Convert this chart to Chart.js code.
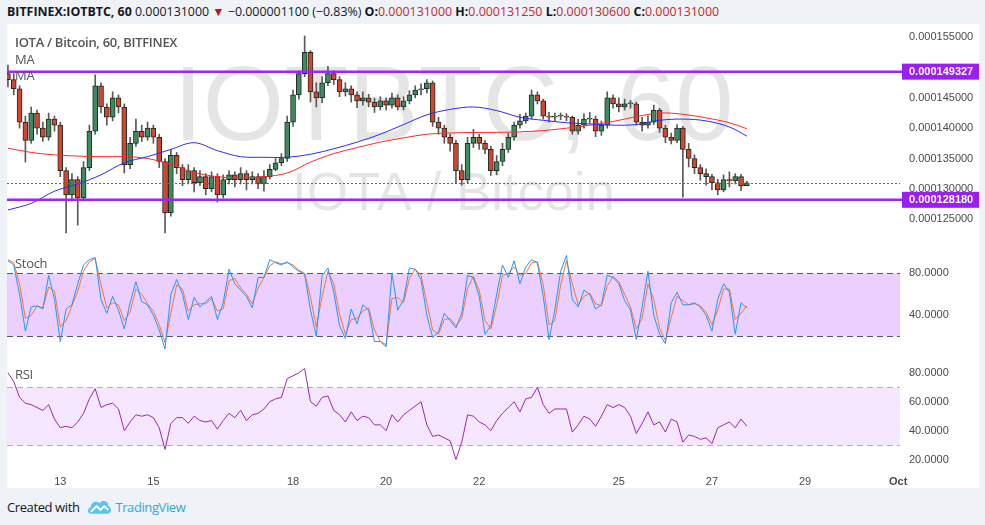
<!DOCTYPE html>
<html lang="en">
<head>
<meta charset="UTF-8">
<title>IOTBTC, 60</title>
<script src="https://cdn.jsdelivr.net/npm/chart.js@4.4.0/dist/chart.umd.min.js"></script>
<style>
  body { margin: 0; width: 985px; height: 525px; overflow: hidden; background: #eff2f6; font-family: 'Open Sans', 'Noto Sans', sans-serif; }
  .hdr { position: absolute; left: 7px; top: 3px; font-size: 12.4px; color: #131722; white-space: nowrap; }
  .hdr b { font-weight: 700; }
  .hdr .r { color: #c62828; }
  .panel { position: absolute; left: 7px; top: 24px; width: 972px; height: 464px; background: #fff; }
  .pane { position: absolute; left: 7px; width: 972px; }
  .lbl { position: absolute; left: 15px; font-size: 13px; letter-spacing: -0.3px; color: #555; line-height: 16px; white-space: nowrap; }
  .foot { position: absolute; left: 7px; top: 498px; font-size: 13px; letter-spacing: -0.4px; color: #131722; white-space: nowrap; }
  .foot .tv { color: #2fa8de; }
</style>
</head>
<body>
  <div class="hdr"><b>BITFINEX:IOTBTC, 60</b> 0.000131000 <span style="color:#b71c1c">&#9660;</span> &minus;0.000001100 (&minus;0.83%) <b>O:</b><span class="r">0.000131000</span> <b>H:</b><span class="r">0.000131250</span> <b>L:</b><span class="r">0.000130600</span> <b>C:</b><span class="r">0.000131000</span></div>
  <div class="panel"></div>

  <div class="pane" style="top:24px;height:226px"><canvas id="mainChart"></canvas></div>
  <div class="pane" style="top:250px;height:105px"><canvas id="stochChart"></canvas></div>
  <div class="pane" style="top:355px;height:133px"><canvas id="rsiChart"></canvas></div>

  <div class="lbl" style="top:34px;font-weight:600">IOTA / Bitcoin, 60, BITFINEX</div>
  <div class="lbl" style="top:51px">MA</div>
  <div class="lbl" style="top:67px">MA</div>
  <div class="lbl" style="top:255px">Stoch</div>
  <div class="lbl" style="top:366px">RSI</div>

  <div class="foot">Created with
    <svg width="25" height="16" viewBox="0 0 26 16" style="vertical-align:-3px;margin-left:5px">
      <path d="M4 15 C0 15 0 9 4 8 C4 3 10 1 13 4 C16 0 23 2 22 7 C26 8 26 15 21 15 Z" fill="#5cc3ec"/>
      <path d="M4 13 L10 7 L14 11 L18 7 L22 11" stroke="#fff" stroke-width="2" fill="none"/>
    </svg>
    <span class="tv">TradingView</span></div>

<script>
// candle times in days of September (3-hour candles)
const candleStart = 11.875;
const candleStep = 0.125;

// prices in units of 1e-6 BTC
const opens = [
  149, 148, 146.5, 141, 138, 142.5, 140, 138.5, 141.5, 140.5,
  133, 129, 131.5, 128.5, 133.5, 139.5, 147, 143.5, 141.8, 145,
  143.5, 134, 137.5, 139.5, 138.5, 140, 138.5, 134.5, 126, 135.5,
  133.5, 131.5, 133, 131, 132, 130, 132, 129, 131.5, 132.3,
  131.5, 132.5, 131.5, 132, 130.8, 132, 133.2, 134.3, 135, 141,
  145.5, 149, 152.5, 146, 145, 147.5, 149, 148, 146, 146.5,
  145.5, 144.5, 145, 144.3, 143.5, 144.5, 143.8, 145, 143.5, 144.5,
  145.5, 146.3, 146.5, 147.5, 141, 140, 138.5, 137.5, 133, 131.5,
  137.5, 138.5, 137.5, 136.5, 133, 134.5, 136.5, 138.5, 140.5, 141.2,
  142, 145.5, 144.5, 142, 141.8, 142, 142, 141.8, 139.5, 140.5,
  141.5, 141.5, 139.5, 140.5, 145, 144, 143.5, 144, 144, 141,
  140.5, 141, 143, 140, 138.5, 138, 140, 136.5, 135, 133.5,
  132.5, 132, 131, 129.8, 131.5, 131.3, 132, 130.5
];
const highs = [
  150.4, 149, 147, 142, 143.5, 143, 141, 142.5, 142, 141,
  133.5, 132.5, 132, 134.5, 140.5, 148.8, 147.5, 144, 146, 145.5,
  144, 138.5, 141.5, 140.5, 141, 140.5, 139, 135, 136.5, 136,
  134, 134, 133.5, 133, 132.5, 132.8, 132.5, 132.3, 133, 132.8,
  133.5, 133, 132.8, 132.5, 133, 134, 135, 135.8, 142, 146.3,
  149.5, 155.2, 152.8, 147.5, 148.5, 150.2, 149.5, 148.5, 147.5, 147,
  146, 146, 145.6, 145, 145.2, 145, 145.8, 145.5, 145.2, 146.2,
  147, 147.3, 148, 147.8, 141.8, 140.5, 139, 138, 134, 138.5,
  139.8, 139, 138, 137, 135.5, 137.5, 139.2, 141, 142.3, 142.5,
  146.3, 146, 144.8, 142.6, 142.5, 142.5, 142.4, 142, 141.5, 142.4,
  142.6, 142, 141.2, 146, 145.5, 145, 144.8, 144.6, 144.3, 141.8,
  142, 143.8, 143.3, 140.5, 139.2, 140.6, 140.3, 137.5, 135.6, 134,
  133.3, 132.4, 131.6, 132.3, 132.8, 132.5, 132.4, 131.25
];
const lows = [
  146.8, 145.5, 140, 134.4, 137.5, 139, 137.8, 138, 139.5, 132,
  122.7, 128, 124, 128, 133, 139, 142.5, 140.5, 141.2, 142.5,
  132.6, 133.3, 137, 137.8, 138, 137.5, 133.5, 122.7, 125.5, 132.5,
  130.5, 130.8, 129.5, 130.5, 129, 129.5, 127.8, 128.5, 130.8, 130.3,
  130.8, 129.8, 130.8, 130, 129.6, 131.6, 133, 133.8, 134.5, 140.3,
  144.8, 148.5, 144.3, 143.5, 144.2, 147, 147.2, 145.2, 145.3, 144.3,
  143.4, 143.8, 143.5, 142.6, 143, 143, 143.3, 143, 143, 144,
  145, 145.5, 145.8, 140.3, 139, 137.5, 136.2, 131, 130.6, 131,
  136.8, 136.5, 135.8, 132.2, 132.3, 133.8, 136, 138, 140, 140.8,
  141.5, 144, 141.5, 141, 141.2, 141.4, 141.2, 139, 139, 140,
  140.8, 138.6, 138.8, 140, 143.3, 142.7, 143, 143.3, 140.5, 139.5,
  140, 140.6, 139.3, 137.6, 137.4, 137.6, 128.6, 133.6, 132.5, 131.4,
  130.6, 129.8, 129, 129.5, 130.3, 130.8, 129.7, 130.6
];
const closes = [
  148, 146.5, 141, 138, 142.5, 140, 138.5, 141.5, 140.5, 133,
  129, 131.5, 128.5, 133.5, 139.5, 147, 143.5, 141.8, 145, 143.5,
  134, 137.5, 139.5, 138.5, 140, 138.5, 134.5, 126, 135.5, 133.5,
  131.5, 133, 131, 132, 130, 132, 129, 131.5, 132.3, 131.5,
  132.5, 131.5, 132, 130.8, 132, 133.2, 134.3, 135, 141, 145.5,
  149, 152.5, 146, 145, 147.5, 149, 148, 146, 146.5, 145.5,
  144.5, 145, 144.3, 143.5, 144.5, 143.8, 145, 143.5, 144.5, 145.5,
  146.3, 146.5, 147.5, 141, 140, 138.5, 137.5, 133, 131.5, 137.5,
  138.5, 137.5, 136.5, 133, 134.5, 136.5, 138.5, 140.5, 141.2, 142,
  145.5, 144.5, 142, 141.8, 142, 142, 141.8, 139.5, 140.5, 141.5,
  141.5, 139.5, 140.5, 145, 144, 143.5, 144, 144, 141, 140.5,
  141, 143, 140, 138.5, 138, 140, 136.5, 135, 133.5, 132.5,
  132, 131, 129.8, 131.5, 131.3, 132, 130.5, 131
];

// moving averages, sampled every half day
const maDays = [
  11.875, 12.375, 12.875, 13.375, 13.875, 14.375, 14.875, 15.375, 15.875, 16.375, 16.875,
  17.375, 17.875, 18.375, 18.875, 19.375, 19.875, 20.375, 20.875, 21.375, 21.875, 22.375,
  22.875, 23.375, 23.875, 24.375, 24.875, 25.375, 25.875, 26.375, 26.875, 27.375, 27.75
];
const maBlue = [
  126.5, 127.6, 129.6, 130.8, 132.3, 134.3, 135.3, 136.5, 137.6, 136.3, 135.3,
  135.2, 135.2, 135.7, 136.6, 137.7, 139.0, 140.6, 142.2, 143.1, 143.5, 142.9,
  141.8, 141.3, 140.9, 140.7, 140.5, 140.6, 141.3, 141.5, 141.2, 140.2, 138.7
];
const maRed = [
  136.7, 136.0, 135.6, 135.4, 135.3, 135.3, 135.0, 134.0, 132.7, 132.0, 131.8,
  132.0, 132.6, 134.4, 135.8, 136.8, 137.7, 138.4, 139.0, 139.2, 139.3, 139.3,
  139.4, 139.6, 140.0, 140.5, 141.1, 141.9, 142.5, 142.3, 141.7, 140.9, 139.9
];

// stochastic %K and %D on the candle grid
const stochK = [
  92, 88, 60, 25, 48, 49, 46, 78, 55, 15, 46, 50, 70, 88, 93, 95, 55, 42, 58, 45,
  27, 52, 72, 53, 50, 40, 26, 8, 60, 74, 60, 36, 57, 48, 53, 58, 36, 52, 84, 70,
  64, 58, 47, 76, 76, 93, 90, 88, 91, 86, 82, 79, 45, 20, 78, 85, 62, 30, 18, 46,
  32, 50, 45, 15, 15, 10, 80, 45, 55, 85, 84, 74, 40, 19, 24, 42, 35, 28, 42, 78,
  76, 58, 22, 30, 60, 88, 76, 92, 70, 86, 93, 90, 58, 17, 45, 82, 97, 55, 48, 64,
  60, 46, 50, 78, 76, 70, 54, 45, 17, 48, 82, 40, 22, 13, 52, 62, 50, 50, 52, 48,
  40, 25, 55, 70, 62, 22, 52, 47
];
const stochD = [
  93, 90, 70, 37, 40, 49, 47, 67, 63, 29, 35, 49, 63, 82, 91, 94, 69, 47, 52, 50,
  35, 43, 65, 60, 51, 44, 31, 14, 42, 69, 65, 44, 50, 51, 51, 56, 44, 46, 73, 75,
  66, 60, 51, 66, 76, 87, 91, 89, 90, 88, 83, 80, 57, 29, 58, 82, 70, 41, 22, 36,
  37, 44, 47, 26, 15, 12, 56, 57, 52, 75, 84, 78, 52, 26, 22, 36, 37, 30, 37, 66,
  77, 64, 35, 27, 50, 78, 80, 86, 78, 80, 90, 91, 69, 31, 35, 69, 92, 70, 50, 58,
  61, 51, 49, 68, 77, 72, 60, 48, 27, 37, 70, 55, 28, 16, 38, 58, 54, 50, 51, 49,
  43, 31, 45, 65, 65, 36, 42, 49
];

// RSI on the candle grid
const rsi = [
  80, 74, 63, 59, 58, 56, 54, 58, 48, 42, 43, 42, 46, 52, 62, 69, 56, 58, 59, 55,
  40, 46, 51, 50, 51, 49, 42, 27, 45, 49, 49, 45, 50, 47, 46, 47, 41, 47, 52, 49,
  54, 47, 51, 52, 55, 60, 62, 63, 76, 78, 80, 83, 60, 57, 63, 64, 54, 51, 46, 53,
  47, 50, 49, 44, 44, 40, 51, 46, 51, 54, 57, 60, 44, 36, 37, 35, 33, 20, 32, 51,
  50, 46, 44, 40, 47, 52, 56, 60, 53, 62, 63, 70, 58, 52, 55, 55, 55, 39, 44, 50,
  48, 43, 50, 58, 56, 58, 56, 50, 38, 45, 53, 44, 46, 39, 48, 46, 32, 37, 36, 34,
  35, 31, 42, 44, 46, 42, 48, 43
];

// axis ticks
const tickDays = [13, 15, 18, 20, 22, 25, 27, 29, 31];
const tickLabels = ['13', '15', '18', '20', '22', '25', '27', '29', 'Oct'];
const priceTicks = [125, 130, 135, 140, 145, 155];
const stochTicks = [40, 80];
const rsiTicks = [20, 40, 60, 80];
const levels = [149.327, 128.18];
const watermark = ['IOTBTC, 60', 'IOTA / Bitcoin'];

const days = closes.map((_, i) => candleStart + i * candleStep);

Chart.defaults.font.family = "'Liberation Sans', Arial, sans-serif";
Chart.defaults.font.size = 11;
Chart.defaults.color = '#4a4a4a';
Chart.defaults.animation = false;
Chart.defaults.plugins.legend.display = false;
Chart.defaults.plugins.tooltip.enabled = false;

const X_MIN = 11.855, X_MAX = 31.04, AXIS_W = 79;

function xAxis(show) {
  return {
    type: 'linear', min: X_MIN, max: X_MAX, offset: false, display: show,
    grid: { display: false, drawTicks: false }, border: { display: false },
    afterFit: (s) => { s.height = show ? 20 : 0; s.paddingLeft = 0; s.paddingRight = 0; },
    afterBuildTicks: (s) => { s.ticks = tickDays.map(v => ({ value: v })); },
    ticks: {
      autoSkip: false, maxRotation: 0, padding: 7, color: '#4a4a4a',
      font: (c) => ({ size: 11, weight: (c.tick && c.tick.value === 31) ? 'bold' : 'normal' }),
      callback: (v) => tickLabels[tickDays.indexOf(v)]
    }
  };
}

function yAxis(min, max, list, fmt) {
  return {
    position: 'right', min: min, max: max,
    grid: { display: false, drawTicks: false }, border: { display: false },
    afterFit: (s) => { s.width = AXIS_W; s.paddingTop = 0; s.paddingBottom = 0; },
    afterBuildTicks: (s) => { s.ticks = list.map(v => ({ value: v })); },
    ticks: { padding: 9, color: '#4a4a4a', callback: fmt }
  };
}

// watermark, support/resistance lines and last price line
const mainDecor = {
  id: 'mainDecor',
  beforeDatasetsDraw(chart) {
    const { ctx, chartArea: a } = chart;
    const cx = (a.left + a.right) / 2;
    ctx.save();
    ctx.fillStyle = 'rgba(0,0,0,0.1)';
    ctx.textAlign = 'center';
    ctx.font = "105px 'Liberation Sans', Arial, sans-serif";
    ctx.fillText(watermark[0], cx, 116);
    ctx.font = "53px 'Liberation Sans', Arial, sans-serif";
    ctx.fillText(watermark[1], cx, 186);
    ctx.restore();
  },
  afterDatasetsDraw(chart) {
    const { ctx, chartArea: a } = chart;
    const y = chart.scales.y;
    ctx.save();
    // last price
    const py = Math.round(y.getPixelForValue(closes[closes.length - 1])) + 0.5;
    ctx.strokeStyle = '#3d7d58';
    ctx.lineWidth = 1;
    ctx.setLineDash([2, 2]);
    ctx.beginPath(); ctx.moveTo(a.left, py); ctx.lineTo(a.right, py); ctx.stroke();
    ctx.setLineDash([]);
    levels.forEach(v => {
      const ly = y.getPixelForValue(v);
      ctx.strokeStyle = '#9c27f5';
      ctx.lineWidth = 2.5;
      ctx.beginPath(); ctx.moveTo(a.left, ly); ctx.lineTo(a.right + 3, ly); ctx.stroke();
      ctx.fillStyle = '#9b1ff2';
      ctx.fillRect(a.right + 2, ly - 8, chart.width - a.right - 2, 16);
      ctx.fillStyle = '#fff';
      ctx.font = "bold 11px 'Liberation Sans', Arial, sans-serif";
      ctx.textBaseline = 'middle';
      ctx.fillText((v / 1e6).toFixed(9), a.right + 9, ly + 0.5);
    });
    ctx.restore();
  }
};

function bandPlugin(id, hi, lo, fill, dash) {
  return {
    id: id,
    beforeDatasetsDraw(chart) {
      const { ctx, chartArea: a } = chart;
      const y = chart.scales.y;
      const y1 = Math.round(y.getPixelForValue(hi)) + 0.5;
      const y2 = Math.round(y.getPixelForValue(lo)) + 0.5;
      ctx.save();
      ctx.fillStyle = fill;
      ctx.fillRect(a.left, y1, a.right - a.left, y2 - y1);
      ctx.strokeStyle = dash;
      ctx.lineWidth = 1;
      ctx.setLineDash([6, 4]);
      [y1, y2].forEach(yy => { ctx.beginPath(); ctx.moveTo(a.left, yy); ctx.lineTo(a.right, yy); ctx.stroke(); });
      ctx.restore();
    }
  };
}

const lineStyle = { borderWidth: 1, pointRadius: 0, fill: false };

new Chart(document.getElementById('mainChart'), {
  type: 'bar',
  data: {
    datasets: [
      {
        label: 'wick', order: 4, grouped: false, barThickness: 1,
        backgroundColor: '#5a5a5a',
        data: days.map((d, i) => ({ x: d, y: [lows[i], highs[i]] }))
      },
      {
        label: 'body', order: 3, grouped: false, barThickness: 5, minBarLength: 1,
        borderWidth: 1, borderSkipped: false, borderColor: '#1d2b22',
        backgroundColor: closes.map((c, i) => c >= opens[i] ? '#3f8a5f' : '#d4452f'),
        data: days.map((d, i) => ({ x: d, y: [opens[i], closes[i]] }))
      },
      { type: 'line', label: 'MA', order: 1, borderColor: '#2a2aff', tension: 0.35, ...lineStyle,
        data: maDays.map((d, i) => ({ x: d, y: maBlue[i] })) },
      { type: 'line', label: 'MA', order: 2, borderColor: '#ff2a2a', tension: 0.35, ...lineStyle,
        data: maDays.map((d, i) => ({ x: d, y: maRed[i] })) }
    ]
  },
  options: {
    responsive: true, maintainAspectRatio: false,
    layout: { padding: 0 },
    scales: {
      x: xAxis(false),
      y: yAxis(119.9, 157.19, priceTicks, (v) => (v / 1e6).toFixed(9))
    }
  },
  plugins: [mainDecor]
});

new Chart(document.getElementById('stochChart'), {
  type: 'line',
  data: {
    datasets: [
      { label: '%K', borderColor: '#2196f3', ...lineStyle, data: days.map((d, i) => ({ x: d, y: stochK[i] })) },
      { label: '%D', borderColor: '#f57433', ...lineStyle, data: days.map((d, i) => ({ x: d, y: stochD[i] })) }
    ]
  },
  options: {
    responsive: true, maintainAspectRatio: false,
    layout: { padding: 0 },
    scales: {
      x: xAxis(false),
      y: yAxis(2.2, 102.2, stochTicks, (v) => v.toFixed(4))
    }
  },
  plugins: [bandPlugin('stochBand', 80, 20, 'rgba(153,21,255,0.2)', '#5e5466')]
});

new Chart(document.getElementById('rsiChart'), {
  type: 'line',
  data: {
    datasets: [
      { label: 'RSI', borderColor: '#9c27b0', ...lineStyle, data: days.map((d, i) => ({ x: d, y: rsi[i] })) }
    ]
  },
  options: {
    responsive: true, maintainAspectRatio: false,
    layout: { padding: 0 },
    scales: {
      x: xAxis(true),
      y: yAxis(14.15, 92.35, rsiTicks, (v) => v.toFixed(4))
    }
  },
  plugins: [bandPlugin('rsiBand', 70, 30, 'rgba(153,21,255,0.1)', '#b9a9c2')]
});
</script>
</body>
</html>
